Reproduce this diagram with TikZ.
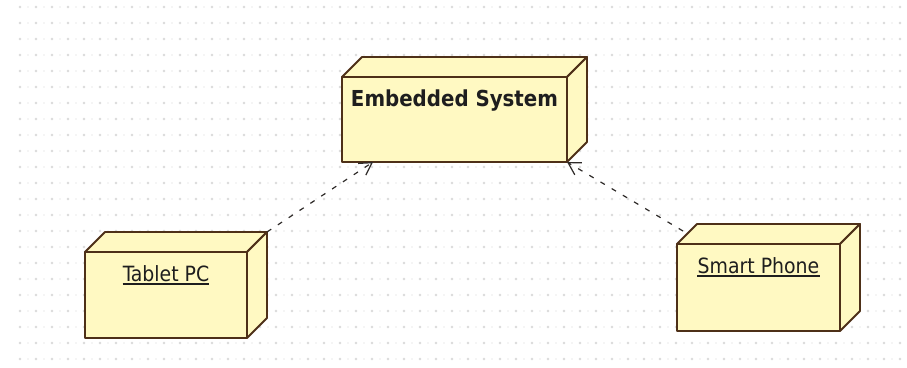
\documentclass[tikz,border=0pt]{standalone}
\usepackage{fontspec}
\newfontfamily\boxfont{DejaVu Sans Condensed}
\usetikzlibrary{arrows.meta}

\definecolor{nodefill}{HTML}{FFF9C2}
\definecolor{nodeline}{HTML}{4E3018}
\definecolor{griddot}{HTML}{DADADA}
\definecolor{griddotminor}{HTML}{ECECEC}
\definecolor{depline}{HTML}{2E2A28}
\definecolor{labeltext}{HTML}{1E1E1E}

% a deployment node: front face, top face and right side face, plus its label
% #1 name, #2 centre x, #3 centre y, #4 width, #5 height, #6 label style, #7 label
\newcommand\depnode[7]{%
  \node[frontface,minimum width=#4pt,minimum height=#5pt] (#1) at (#2,#3) {};
  \draw[face] (#1.north west) -- ([shift={(20,-20)}]#1.north west)
    -- ([shift={(20,-20)}]#1.north east) -- (#1.north east) -- cycle;
  \draw[face] (#1.north east) -- ([shift={(20,-20)}]#1.north east)
    -- ([shift={(20,-20)}]#1.south east) -- (#1.south east) -- cycle;
  \node[#6] (#1-label) at ([yshift=-29pt]#1.north) {#7};
}

\begin{document}
\begin{tikzpicture}[x=1pt,y=-1pt,
  face/.style={fill=nodefill,draw=nodeline,line width=1.8pt,line join=round},
  frontface/.style={face,rectangle,inner sep=0pt,outer sep=0pt},
  lblplain/.style={font=\boxfont\fontsize{21}{25}\selectfont,text=labeltext,
    inner sep=0pt,anchor=base},
  lblbold/.style={font=\boxfont\bfseries\fontsize{22}{26}\selectfont,text=labeltext,
    inner sep=0pt,anchor=base},
  uline/.style={draw=labeltext,line width=1.4pt},
  dep/.style={draw=depline,line width=1.2pt,dash pattern=on 5pt off 8pt,
    -{Straight Barb[length=12pt,width=14pt]}}
]
\useasboundingbox (0,0) rectangle (907,367);
\fill[white] (0,0) rectangle (907,367);

% dotted drawing grid
\foreach \i in {0,...,56}{
  \foreach \j in {0,...,22}{
    \fill[griddot] (20+16*\i,7+16*\j) circle (1.3pt);
    \fill[griddotminor] (28+16*\i,7+16*\j) circle (0.8pt);
  }
}

% nodes
\depnode{esys}{454.5}{119.5}{225}{85}{lblbold}{Embedded System}
\depnode{tablet}{166}{295}{162}{86}{lblplain}{Tablet PC}
\depnode{smart}{758.5}{287.5}{163}{87}{lblplain}{Smart Phone}

% underlined instance names
\draw[uline] ([yshift=-3pt]tablet-label.base west) -- ([yshift=-3pt]tablet-label.base east);
\draw[uline] ([yshift=-3pt]smart-label.base west) -- ([yshift=-3pt]smart-label.base east);

% dependency end points
\coordinate (tablet-port) at ([shift={(20,-20)}]tablet.north east);
\coordinate (smart-port) at ([shift={(6,-13)}]smart.north west);
\coordinate (esys-left) at ([xshift=31pt]esys.south west);

% dependencies
\draw[dep] (tablet-port) -- (esys-left);
\draw[dep] (smart-port) -- (esys.south east);
\end{tikzpicture}
\end{document}
